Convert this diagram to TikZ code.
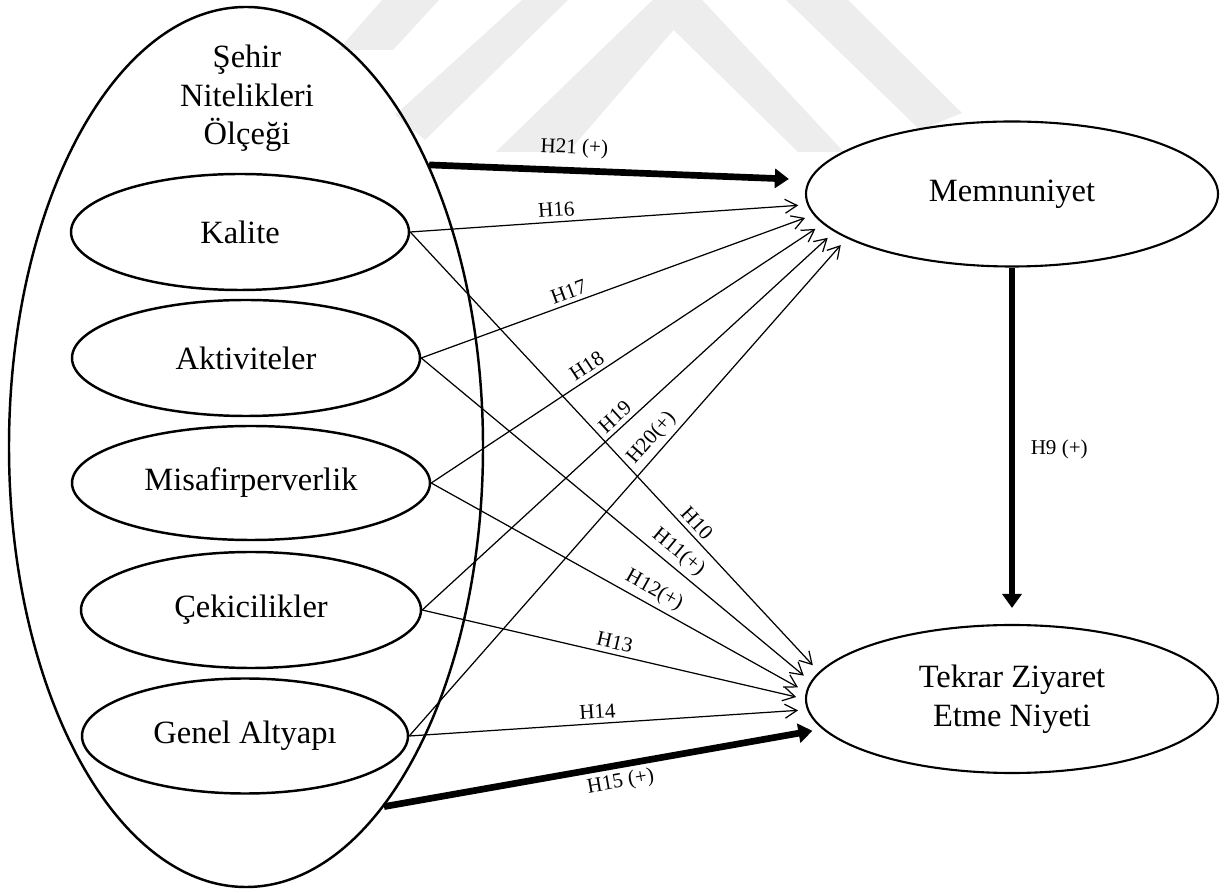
\documentclass[tikz,border=0pt]{standalone}
\usepackage{fontspec}
\setmainfont{Liberation Serif}
\usetikzlibrary{shapes.geometric,arrows.meta,positioning}

\tikzset{
  oval/.style={draw,ellipse,line width=1.4pt,inner sep=0pt,align=center,font=\fontsize{18.5}{21.9}\selectfont},
  ince/.style={line width=0.7pt,-{Straight Barb[length=0.24cm,width=0.28cm]},shorten >=0.18cm},
  kalin/.style={line width=3.8pt,-{Triangle[length=0.28cm,width=0.38cm]}},
  etiket/.style={font=\fontsize{12}{14}\selectfont,inner sep=2.5pt}
}

\begin{document}
\begin{tikzpicture}
\useasboundingbox (0,0) rectangle (24.6,17.84);

%watermark
\fill[black!7] (9.914,14.80) -- (13.052,17.84) -- (14.046,17.84) -- (16.878,14.80) -- (15.96,14.80) -- (13.472,17.24) -- (11.368,14.80) -- cycle;
\fill[black!7] (10.44,17.84) -- (11.36,17.84) -- (8.5,15.04) -- (7.9,15.54) -- cycle;
\fill[black!7] (15.72,17.84) -- (16.96,17.84) -- (19.24,15.58) -- (18.4,15.24) -- cycle;
\fill[black!7] (7.64,17.84) -- (8.78,17.84) -- (7.86,16.84) -- (6.76,16.84) -- cycle;

%outer ellipse
\node[oval,minimum width=9.48cm,minimum height=17.6cm] (sehir) at (4.92,8.90) {};
\node[align=center,font=\fontsize{18.5}{21.9}\selectfont] (baslik) at (4.94,15.87) {Şehir\\Nitelikleri\\Ölçeği};

%dimensions
\node[oval,minimum width=6.76cm,minimum height=2.32cm] (kalite) at (4.80,13.20) {Kalite};
\node[oval,minimum width=6.96cm,minimum height=2.32cm] (aktivite) at (4.92,10.68) {Aktiviteler};
\node[oval,minimum width=7.16cm,minimum height=2.28cm] (misafir) at (5.02,8.18) {Misafirperverlik};
\node[oval,minimum width=6.80cm,minimum height=2.32cm] (cekici) at (5.02,5.64) {Çekicilikler};
\node[oval,minimum width=6.52cm,minimum height=2.30cm] (altyapi) at (4.90,3.12) {Genel Altyapı};

%outcomes
\node[oval,line width=1.2pt,minimum width=8.24cm,minimum height=2.90cm] (memnun) at (20.24,13.96) {Memnuniyet};
\node[oval,line width=1.2pt,minimum width=8.24cm,minimum height=2.96cm] (niyet) at (20.24,3.86) {Tekrar Ziyaret\\Etme Niyeti};

%thick arrows
\draw[kalin,shorten >=0.4cm] (sehir.57) -- node[etiket,above=0.1cm,sloped,pos=0.38] {H21 (+)} (memnun.176);
\draw[kalin,shorten >=0.2cm] (sehir.291) -- node[etiket,below,sloped,pos=0.533] {H15 (+)} (niyet.189);
\draw[kalin,shorten >=0.32cm] (memnun.south) -- node[etiket,right=0.22cm,pos=0.51] {H9 (+)} (niyet.north);

%to memnuniyet
\draw[ince] (kalite.east) -- node[etiket,above,sloped,pos=0.37] {H16} (memnun.183);
\draw[ince] (aktivite.east) -- node[etiket,above,sloped,pos=0.386] {H17} (memnun.186);
\draw[ince] (misafir.east) -- node[etiket,above,sloped,pos=0.414] {H18} (memnun.189);
\draw[ince] (cekici.east) -- node[etiket,above,sloped,pos=0.487] {H19} (memnun.192);
\draw[ince] (altyapi.east) -- node[etiket,above,sloped,pos=0.579] {H20(+)} (memnun.195);

%to tekrar ziyaret
\draw[ince] (kalite.east) -- node[etiket,above,sloped,pos=0.68] {H10} (niyet.172);
\draw[ince] (aktivite.east) -- node[etiket,above,sloped,pos=0.636] {H11(+)} (niyet.175);
\draw[ince] (misafir.east) -- node[etiket,above,sloped,pos=0.576] {H12(+)} (niyet.178);
\draw[ince] (cekici.east) -- node[etiket,above,sloped,pos=0.496] {H13} (niyet.180);
\draw[ince] (altyapi.east) -- node[etiket,above,sloped,pos=0.475] {H14} (niyet.183);
\end{tikzpicture}
\end{document}
